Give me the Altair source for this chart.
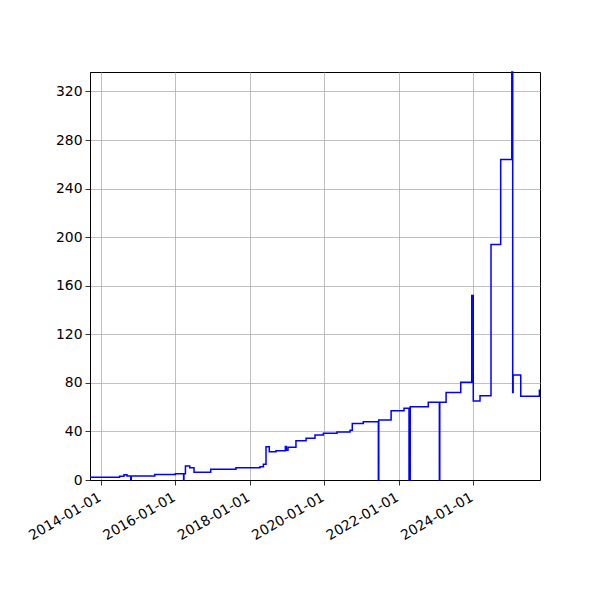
import altair as alt
import pandas as pd

# step series
dates = [
    "2013-09-14", "2014-07-02", "2014-08-13", "2014-09-12", "2014-10-19", "2014-10-24",
    "2015-06-12", "2015-12-31", "2016-03-21", "2016-03-24", "2016-04-08", "2016-05-20",
    "2016-07-01", "2016-12-12", "2017-08-17", "2018-04-10", "2018-05-13", "2018-06-08",
    "2018-07-10", "2018-09-14", "2018-12-15", "2018-12-25", "2019-01-10", "2019-03-29",
    "2019-07-06", "2019-10-02", "2019-12-23", "2020-05-05", "2020-09-10", "2020-10-02",
    "2021-01-18", "2021-06-15", "2021-06-19", "2021-10-18", "2022-02-22", "2022-04-12",
    "2022-04-16", "2022-04-20", "2022-04-24", "2022-10-18", "2023-02-04", "2023-02-08",
    "2023-04-11", "2023-09-02", "2023-12-19", "2024-01-03", "2024-03-09", "2024-06-25",
    "2024-09-28", "2025-01-15", "2025-01-24", "2025-01-28", "2025-04-13", "2025-10-13",
    "2025-10-19",
]
values = [
    2.2, 3.0, 4.4, 3.3, 0, 3.3,
    4.5, 5.2, 0, 5.2, 11.5, 10,
    6.3, 8.8, 10.1, 11, 13, 27.4,
    23.3, 24, 27.5, 24.5, 27, 32.4,
    34.3, 37, 38.4, 39.5, 41, 46.6,
    48, 0, 49.4, 57, 59, 0,
    59, 0, 60.3, 64, 0, 64,
    72, 80.4, 152, 65, 69.4, 194,
    264, 336, 72, 86.4, 69, 74,
    74,
]
tick_years = [2014, 2016, 2018, 2020, 2022, 2024]
y_ticks = [0, 40, 80, 120, 160, 200, 240, 280, 320]

df = pd.DataFrame({"date": dates, "value": values})

chart = (
    alt.Chart(df)
    .mark_line(interpolate="step-after", color="#0000ff", strokeWidth=1.5)
    .encode(
        x=alt.X(
            "date:T",
            title=None,
            scale=alt.Scale(
                type="utc",
                domain=[
                    alt.DateTime(year=2013, month=9, date=14, utc=True),
                    alt.DateTime(year=2025, month=10, date=19, utc=True),
                ],
            ),
            axis=alt.Axis(
                values=[alt.DateTime(year=y, month=1, date=1, utc=True) for y in tick_years],
                format="%Y-%m-%d",
                labelAngle=330,
                labelAlign="right",
                labelBaseline="top",
                labelOverlap=False,
                labelOffset=-5,
                labelPadding=5,
            ),
        ),
        y=alt.Y(
            "value:Q",
            title=None,
            scale=alt.Scale(domain=[0, 336], nice=False, zero=True),
            axis=alt.Axis(values=y_ticks, labelOverlap=False, labelPadding=3),
        ),
    )
    .properties(
        width=450,
        height=408,
        padding={"left": 82, "top": 64, "right": 52, "bottom": 112},
        autosize=alt.AutoSizeParams(type="none"),
    )
    .configure_view(stroke="black", strokeWidth=1)
    .configure_axis(
        grid=True,
        gridColor="#b0b0b0",
        gridWidth=0.8,
        domainColor="black",
        domainWidth=1,
        tickColor="black",
        tickSize=5,
        tickWidth=0.8,
        labelFont="DejaVu Sans",
        labelFontSize=13.9,
        labelColor="black",
    )
)

chart.save("out.html", embed_options={"renderer": "svg", "actions": False})
